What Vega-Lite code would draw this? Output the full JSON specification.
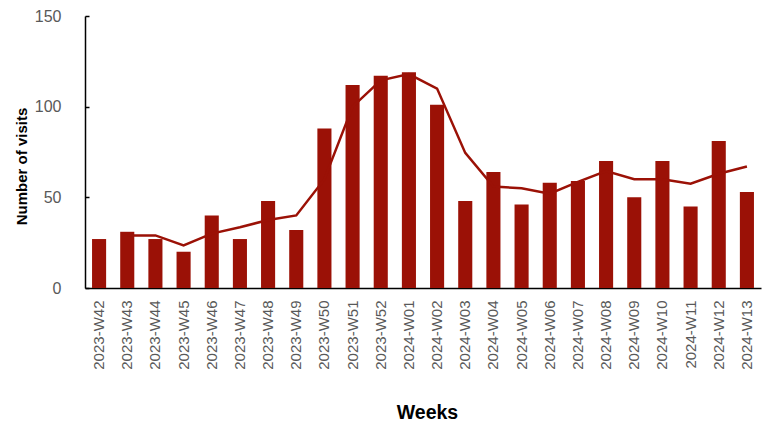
{
  "$schema": "https://vega.github.io/schema/vega-lite/v6.json",
  "width": 676,
  "height": 272,
  "autosize": {"type": "none"},
  "padding": {"left": 85, "top": 16, "right": 11, "bottom": 136},
  "background": "white",
  "config": {"view": {"stroke": null}, "font": "Liberation Sans"},
  "data": {
    "values": [
      {"week": "2023-W42", "visits": 27},
      {"week": "2023-W43", "visits": 31, "avg": 29},
      {"week": "2023-W44", "visits": 27, "avg": 29},
      {"week": "2023-W45", "visits": 20, "avg": 23.5},
      {"week": "2023-W46", "visits": 40, "avg": 30},
      {"week": "2023-W47", "visits": 27, "avg": 33.5},
      {"week": "2023-W48", "visits": 48, "avg": 37.5},
      {"week": "2023-W49", "visits": 32, "avg": 40},
      {"week": "2023-W50", "visits": 88, "avg": 60},
      {"week": "2023-W51", "visits": 112, "avg": 100},
      {"week": "2023-W52", "visits": 117, "avg": 114.5},
      {"week": "2024-W01", "visits": 119, "avg": 118},
      {"week": "2024-W02", "visits": 101, "avg": 110},
      {"week": "2024-W03", "visits": 48, "avg": 74.5},
      {"week": "2024-W04", "visits": 64, "avg": 56},
      {"week": "2024-W05", "visits": 46, "avg": 55},
      {"week": "2024-W06", "visits": 58, "avg": 52},
      {"week": "2024-W07", "visits": 59, "avg": 58.5},
      {"week": "2024-W08", "visits": 70, "avg": 64.5},
      {"week": "2024-W09", "visits": 50, "avg": 60},
      {"week": "2024-W10", "visits": 70, "avg": 60},
      {"week": "2024-W11", "visits": 45, "avg": 57.5},
      {"week": "2024-W12", "visits": 81, "avg": 63},
      {"week": "2024-W13", "visits": 53, "avg": 67}
    ]
  },
  "encoding": {
    "x": {
      "field": "week",
      "type": "nominal",
      "sort": null,
      "scale": {"paddingInner": 0.5, "paddingOuter": 0.25},
      "axis": {
        "title": "Weeks",
        "titleFontSize": 19.5,
        "titleFontWeight": "bold",
        "titleColor": "#000000",
        "titleX": 342,
        "titleY": 130,
        "titleBaseline": "alphabetic",
        "labelAngle": -90,
        "labelAlign": "right",
        "labelBaseline": "middle",
        "labelFontSize": 15,
        "labelColor": "#595959",
        "labelPadding": 12,
        "ticks": false,
        "tickSize": 0,
        "domainColor": "#000000",
        "domainWidth": 1.5
      }
    }
  },
  "layer": [
    {
      "mark": {"type": "bar", "color": "#9b1106"},
      "encoding": {
        "y": {
          "field": "visits",
          "type": "quantitative",
          "scale": {"domain": [0, 150], "nice": false},
          "axis": {
            "values": [0, 50, 100, 150],
            "title": "Number of visits",
            "titleFontSize": 15,
            "titleFontWeight": "bold",
            "titleColor": "#000000",
            "titleAngle": -90,
            "titleX": -59,
            "titleY": 150,
            "titleAlign": "center",
            "titleBaseline": "alphabetic",
            "labelFontSize": 16,
            "labelColor": "#595959",
            "labelPadding": 28,
            "tickSize": -4,
            "tickColor": "#000000",
            "tickWidth": 1.5,
            "domainColor": "#000000",
            "domainWidth": 1.5,
            "grid": false
          }
        }
      }
    },
    {
      "mark": {"type": "line", "color": "#9b1106", "strokeWidth": 2.5},
      "encoding": {
        "y": {"field": "avg", "type": "quantitative"}
      }
    }
  ]
}
